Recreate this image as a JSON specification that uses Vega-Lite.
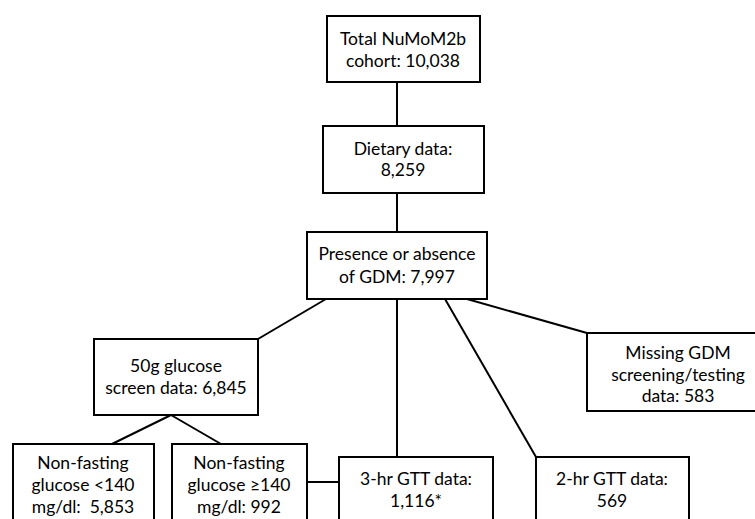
{
  "$schema": "https://vega.github.io/schema/vega-lite/v6.json",
  "autosize": {"type": "fit", "contains": "padding"},
  "width": 755,
  "height": 519,
  "padding": 0,
  "background": "white",
  "config": {"view": {"stroke": null}},
  "datasets": {
    "edges": [
      {"x": 397, "y": 82, "x2": 397, "y2": 126},
      {"x": 397, "y": 193, "x2": 397, "y2": 232},
      {"x": 326, "y": 299, "x2": 258, "y2": 339},
      {"x": 397, "y": 299, "x2": 397, "y2": 457},
      {"x": 445, "y": 299, "x2": 536, "y2": 457},
      {"x": 467, "y": 299, "x2": 587, "y2": 333},
      {"x": 171, "y": 415, "x2": 112, "y2": 444},
      {"x": 171, "y": 415, "x2": 221, "y2": 444},
      {"x": 307, "y": 482, "x2": 339, "y2": 482}
    ],
    "boxes": [
      {"name": "total", "x": 327, "x2": 480, "y": 16, "y2": 82},
      {"name": "diet", "x": 323, "x2": 484, "y": 126, "y2": 193},
      {"name": "gdm", "x": 307, "x2": 487, "y": 232, "y2": 299},
      {"name": "screen", "x": 94, "x2": 258, "y": 339, "y2": 415},
      {"name": "missing", "x": 587, "x2": 775, "y": 333, "y2": 411},
      {"name": "lt140", "x": 13, "x2": 154, "y": 444, "y2": 540},
      {"name": "ge140", "x": 172, "x2": 307, "y": 444, "y2": 540},
      {"name": "gtt3", "x": 339, "x2": 493, "y": 457, "y2": 540},
      {"name": "gtt2", "x": 536, "x2": 689, "y": 457, "y2": 540}
    ],
    "labels": [
      {"x": 403, "y": 45, "t": "Total NuMoM2b"},
      {"x": 403, "y": 67, "t": "cohort: 10,038"},
      {"x": 403, "y": 155, "t": "Dietary data:"},
      {"x": 403, "y": 176, "t": "8,259"},
      {"x": 397, "y": 260, "t": "Presence or absence"},
      {"x": 397, "y": 283, "t": "of GDM: 7,997"},
      {"x": 176, "y": 372, "t": "50g glucose"},
      {"x": 176, "y": 394, "t": "screen data: 6,845"},
      {"x": 678, "y": 359, "t": "Missing GDM"},
      {"x": 678, "y": 381, "t": "screening/testing"},
      {"x": 678, "y": 402, "t": "data: 583"},
      {"x": 83, "y": 469, "t": "Non-fasting"},
      {"x": 83, "y": 491, "t": "glucose <140"},
      {"x": 83, "y": 513, "t": "mg/dl:\u00a0 5,853"},
      {"x": 239, "y": 469, "t": "Non-fasting"},
      {"x": 239, "y": 491, "t": "glucose ≥140"},
      {"x": 239, "y": 513, "t": "mg/dl: 992"},
      {"x": 416, "y": 485, "t": "3-hr GTT data:"},
      {"x": 416, "y": 507, "t": "1,116*"},
      {"x": 612, "y": 485, "t": "2-hr GTT data:"},
      {"x": 612, "y": 507, "t": "569"}
    ]
  },
  "layer": [
    {
      "data": {"name": "edges"},
      "mark": {"type": "rule", "color": "black", "strokeWidth": 2},
      "encoding": {
        "x": {"field": "x", "type": "quantitative", "scale": {"domain": [0, 755]}, "axis": null},
        "y": {"field": "y", "type": "quantitative", "scale": {"domain": [0, 519], "reverse": true}, "axis": null},
        "x2": {"field": "x2"},
        "y2": {"field": "y2"}
      }
    },
    {
      "data": {"name": "boxes"},
      "mark": {"type": "rect", "fill": "white", "stroke": "black", "strokeWidth": 2, "clip": true},
      "encoding": {
        "x": {"field": "x", "type": "quantitative", "scale": {"domain": [0, 755]}, "axis": null},
        "y": {"field": "y", "type": "quantitative", "scale": {"domain": [0, 519], "reverse": true}, "axis": null},
        "x2": {"field": "x2"},
        "y2": {"field": "y2"}
      }
    },
    {
      "data": {"name": "labels"},
      "mark": {"type": "text", "font": "Lato", "fontSize": 17.5, "color": "black", "align": "center", "baseline": "alphabetic"},
      "encoding": {
        "x": {"field": "x", "type": "quantitative", "scale": {"domain": [0, 755]}, "axis": null},
        "y": {"field": "y", "type": "quantitative", "scale": {"domain": [0, 519], "reverse": true}, "axis": null},
        "text": {"field": "t"}
      }
    }
  ]
}
